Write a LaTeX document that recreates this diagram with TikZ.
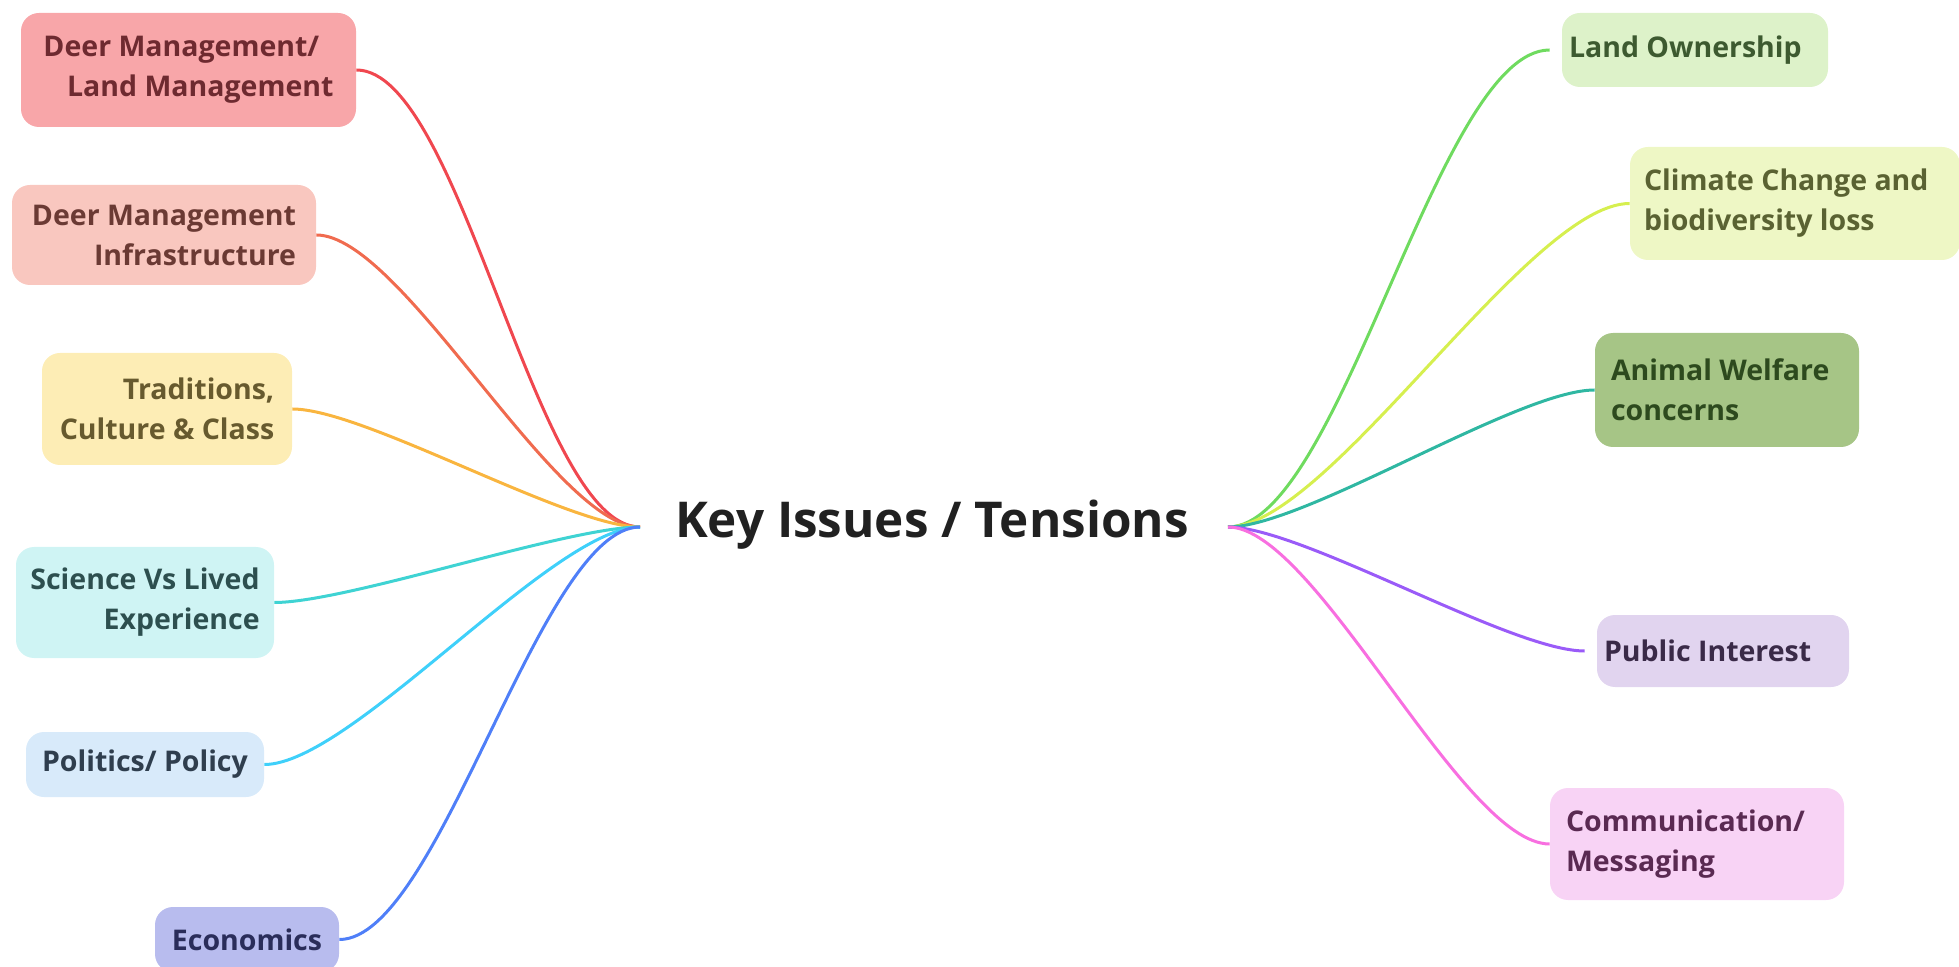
\documentclass[tikz,border=0pt]{standalone}
\usepackage{fontspec}
\setmainfont{Open Sans}
\definecolor{redline}{HTML}{F0474F}
\definecolor{redfill}{HTML}{F8A6A9}
\definecolor{redtext}{HTML}{6E2A30}
\definecolor{salmonline}{HTML}{F06B4F}
\definecolor{salmonfill}{HTML}{F9C7BF}
\definecolor{salmontext}{HTML}{6B3A34}
\definecolor{goldline}{HTML}{F9B53F}
\definecolor{goldfill}{HTML}{FDEDB5}
\definecolor{goldtext}{HTML}{675A2E}
\definecolor{aqualine}{HTML}{3FD3D3}
\definecolor{aquafill}{HTML}{CFF4F4}
\definecolor{aquatext}{HTML}{2D4F4F}
\definecolor{skyline}{HTML}{3FD0FA}
\definecolor{skyfill}{HTML}{D8EAFA}
\definecolor{skytext}{HTML}{2F3E4E}
\definecolor{blueline}{HTML}{4F7FF8}
\definecolor{bluefill}{HTML}{B8BCEE}
\definecolor{bluetext}{HTML}{2A2D5A}
\definecolor{greenline}{HTML}{6FDB5F}
\definecolor{greenfill}{HTML}{DDF2C9}
\definecolor{greentext}{HTML}{3D5A30}
\definecolor{limeline}{HTML}{D6EF4F}
\definecolor{limefill}{HTML}{EEF7C5}
\definecolor{limetext}{HTML}{5A6232}
\definecolor{tealline}{HTML}{2FB7A2}
\definecolor{mossfill}{HTML}{A6C586}
\definecolor{mosstext}{HTML}{2D4A1E}
\definecolor{violetline}{HTML}{9A5BF8}
\definecolor{violetfill}{HTML}{E1D4EF}
\definecolor{violettext}{HTML}{3A2A48}
\definecolor{pinkline}{HTML}{F86FE0}
\definecolor{pinkfill}{HTML}{F8D3F5}
\definecolor{pinktext}{HTML}{5A2A52}

\begin{document}
\begin{tikzpicture}[x=0.5pt, y=-0.5pt,
	topic/.style={rounded corners=9pt, inner ysep=0pt, font=\bfseries\fontsize{14.25}{20}\selectfont},
	ltopic/.style={topic, align=right},
	rtopic/.style={topic, align=flush left},
	link/.style={line width=1.5pt, looseness=0.5},
	]
	\useasboundingbox (0,0) rectangle (1959,967);
	
	\coordinate (hubL) at (640,527);
	\coordinate (hubR) at (1228,527);
	\node[font=\bfseries\fontsize{24.7}{30}\selectfont, text=black!87] (key) at (932,525) {Key Issues / Tensions};
	
	\node[ltopic, fill=redfill, text=redtext, minimum width=167.5pt, minimum height=57pt] (deerland) at (188.5,70) {Deer Management/\hspace*{0.5em}\\Land Management};
	\node[ltopic, fill=salmonfill, text=salmontext, minimum width=152pt, minimum height=50pt] (deerinfra) at (164,235) {Deer Management\\Infrastructure};
	\node[ltopic, fill=goldfill, text=goldtext, minimum width=125pt, minimum height=56pt] (tradition) at (167,409) {Traditions,\\Culture \& Class};
	\node[ltopic, fill=aquafill, text=aquatext, minimum width=129pt, minimum height=55.5pt] (science) at (145,602.5) {Science Vs Lived\\Experience};
	\node[ltopic, fill=skyfill, text=skytext, minimum width=119pt, minimum height=32.5pt] (politics) at (145,764.5) {Politics/ Policy};
	\node[ltopic, fill=bluefill, text=bluetext, minimum width=92pt, minimum height=32.5pt] (economics) at (247,939.5) {Economics};
	
	\node[rtopic, fill=greenfill, text=greentext, minimum width=133pt, minimum height=37pt, inner xsep=3.5pt, text width=126pt] (ownership) at (1695,50) {Land Ownership};
	\node[rtopic, fill=limefill, text=limetext, minimum width=165pt, minimum height=56.5pt, inner xsep=7pt, text width=151pt] (climate) at (1795,203.5) {Climate Change and\\biodiversity loss};
	\node[rtopic, fill=mossfill, text=mosstext, minimum width=132pt, minimum height=57pt, inner xsep=8pt, text width=116pt] (welfare) at (1727,390) {Animal Welfare\\concerns};
	\node[rtopic, fill=violetfill, text=violettext, minimum width=126pt, minimum height=36pt, inner xsep=3.5pt, text width=119pt] (public) at (1723,651) {Public Interest};
	\node[rtopic, fill=pinkfill, text=pinktext, minimum width=147pt, minimum height=56pt, inner xsep=8pt, text width=131pt] (comms) at (1697,844) {Communication/\\Messaging};
	
	\draw[link, redline] (deerland.east) to[out=0, in=180] (hubL);
	\draw[link, salmonline] (deerinfra.east) to[out=0, in=180] (hubL);
	\draw[link, goldline] (tradition.east) to[out=0, in=180] (hubL);
	\draw[link, aqualine] (science.east) to[out=0, in=180] (hubL);
	\draw[link, skyline] (politics.east) to[out=0, in=180] (hubL);
	\draw[link, blueline] (economics.east) to[out=0, in=180] (hubL);
	
	\draw[link, greenline] (hubR) to[out=0, in=180] ([xshift=-6pt]ownership.west);
	\draw[link, limeline] (hubR) to[out=0, in=180] (climate.west);
	\draw[link, tealline] (hubR) to[out=0, in=180] (welfare.west);
	\draw[link, violetline] (hubR) to[out=0, in=180] ([xshift=-6pt]public.west);
	\draw[link, pinkline] (hubR) to[out=0, in=180] (comms.west);
\end{tikzpicture}
\end{document}
